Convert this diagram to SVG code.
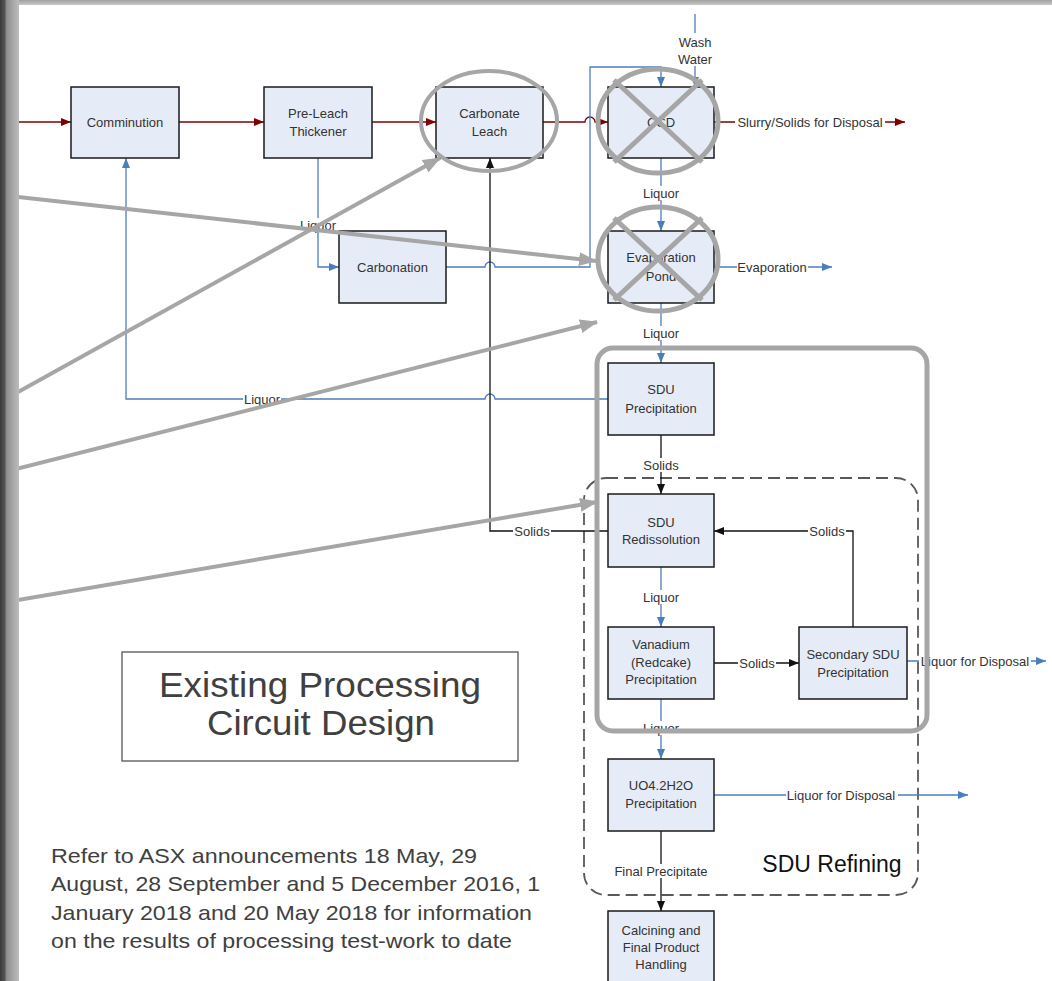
<svg xmlns="http://www.w3.org/2000/svg" width="1052" height="981" viewBox="0 0 1052 981">
<defs>
<style>
.node rect{fill:#e6ecf7;stroke:#1a1a1a;stroke-width:1.5}
.node text,.lbl text{font-family:"Liberation Sans",Arial,sans-serif;font-size:13px;fill:#333;text-anchor:middle}
.lbl rect{fill:#fff}
.red{stroke:#7f0000;stroke-width:1.3;fill:none;marker-end:url(#ar)}
.blue{stroke:#4a7ebf;stroke-width:1.3;fill:none;marker-end:url(#ab)}
.blk{stroke:#111;stroke-width:1.3;fill:none;marker-end:url(#ak)}
.ann{stroke:#a6a6a6;fill:none}
.garrow{stroke:#a6a6a6;stroke-width:4;fill:none;marker-end:url(#ag)}
</style>
<marker id="ar" viewBox="0 0 10 8" refX="10" refY="4" markerWidth="10" markerHeight="8" markerUnits="userSpaceOnUse" orient="auto"><path d="M0,0 L10,4 L0,8z" fill="#7f0000"/></marker>
<marker id="ab" viewBox="0 0 10 8" refX="10" refY="4" markerWidth="10" markerHeight="8" markerUnits="userSpaceOnUse" orient="auto"><path d="M0,0 L10,4 L0,8z" fill="#4a7ebf"/></marker>
<marker id="ak" viewBox="0 0 10 8" refX="10" refY="4" markerWidth="10" markerHeight="8" markerUnits="userSpaceOnUse" orient="auto"><path d="M0,0 L10,4 L0,8z" fill="#111"/></marker>
<marker id="ag" viewBox="0 0 18 14" refX="17" refY="7" markerWidth="18" markerHeight="14" markerUnits="userSpaceOnUse" orient="auto"><path d="M0,0 L18,7 L0,14z" fill="#a6a6a6"/></marker>
<linearGradient id="gl" x1="0" y1="0" x2="1" y2="0"><stop offset="0" stop-color="#3a3a3a"/><stop offset="0.25" stop-color="#555"/><stop offset="0.35" stop-color="#8f8f8f"/><stop offset="1" stop-color="#bdbdbd"/></linearGradient>
<linearGradient id="gt" x1="0" y1="0" x2="0" y2="1"><stop offset="0" stop-color="#a0a0a0"/><stop offset="1" stop-color="#c8c8c8"/></linearGradient>
</defs>
<rect width="1052" height="981" fill="#fff"/>

<g id="sdu-refining-group">
<rect x="584" y="478" width="334" height="417" rx="22" fill="none" stroke="#595959" stroke-width="1.8" stroke-dasharray="12 6"/>
<text x="832" y="872" font-family="'Liberation Sans',Arial,sans-serif" font-size="23" fill="#111" text-anchor="middle">SDU Refining</text>
</g>

<g id="connectors">
<path class="red" d="M19,122 H71"/>
<path class="red" d="M179,122 H264"/>
<path class="red" d="M372,122 H436"/>
<path class="red" d="M543,122 H585 a5,5 0 0 1 10,0 H608"/>
<path class="red" d="M714,122 H905"/>
<path class="blue" d="M695,14 V87"/>
<path class="blue" d="M446,267 H485 a5,5 0 0 1 10,0 H590 V67 H661 V87"/>
<path class="blue" d="M661,158 V231"/>
<path class="blue" d="M714,267 H832"/>
<path class="blue" d="M661,303 V363"/>
<path class="blue" d="M318,158 V267 H339"/>
<path class="blue" d="M608,399 H495 a5,5 0 0 0 -10,0 H126 V158"/>
<path class="blue" d="M661,567 V627"/>
<path class="blue" d="M907,661 H1046"/>
<path class="blue" d="M661,699 V759"/>
<path class="blue" d="M714,795 H968"/>
<path class="blk" d="M661,435 V494"/>
<path class="blk" d="M608,531 H490 V158"/>
<path class="blk" d="M853,627 V531 H714"/>
<path class="blk" d="M714,663 H799"/>
<path class="blk" d="M661,831 V911"/>
</g>

<g id="labels">
<g class="lbl"><rect x="299" y="218" width="38" height="14"/><text x="318" y="229.5">Liquor</text></g>
<g class="lbl"><rect x="642" y="186" width="38" height="14"/><text x="661" y="197.5">Liquor</text></g>
<g class="lbl"><rect x="642" y="326" width="38" height="14"/><text x="661" y="337.5">Liquor</text></g>
<g class="lbl"><rect x="243" y="392" width="38" height="14"/><text x="262" y="403.5">Liquor</text></g>
<g class="lbl"><rect x="642" y="458" width="38" height="14"/><text x="661" y="469.5">Solids</text></g>
<g class="lbl"><rect x="513" y="524" width="38" height="14"/><text x="532" y="535.5">Solids</text></g>
<g class="lbl"><rect x="808" y="524" width="38" height="14"/><text x="827" y="535.5">Solids</text></g>
<g class="lbl"><rect x="642" y="590" width="38" height="14"/><text x="661" y="601.5">Liquor</text></g>
<g class="lbl"><rect x="738" y="656" width="38" height="14"/><text x="757" y="667.5">Solids</text></g>
<g class="lbl"><rect x="642" y="721" width="38" height="14"/><text x="661" y="732.5">Liquor</text></g>
<g class="lbl"><rect x="612" y="864" width="98" height="14"/><text x="661" y="875.5">Final Precipitate</text></g>
<g class="lbl"><rect x="735" y="115" width="150" height="14"/><text x="810" y="126.5">Slurry/Solids for Disposal</text></g>
<g class="lbl"><rect x="737" y="260" width="71" height="14"/><text x="772" y="271.5">Evaporation</text></g>
<g class="lbl"><rect x="919" y="654" width="112" height="14"/><text x="975" y="665.5">Liquor for Disposal</text></g>
<g class="lbl"><rect x="786" y="788" width="112" height="14"/><text x="841" y="799.5">Liquor for Disposal</text></g>
<g class="lbl"><rect x="676" y="33" width="38" height="33"/><text x="695" y="46.5">Wash</text><text x="695" y="63.5">Water</text></g>
</g>

<g id="n-comminution" class="node"><rect x="71" y="87" width="108" height="71"/><text x="125" y="126.5">Comminution</text></g>
<g id="n-preleach" class="node"><rect x="264" y="87" width="108" height="71"/><text x="318" y="118">Pre-Leach</text><text x="318" y="136">Thickener</text></g>
<g id="n-carbleach" class="node"><rect x="436" y="87" width="107" height="71"/><text x="489.5" y="118">Carbonate</text><text x="489.5" y="136">Leach</text></g>
<g id="n-ccd" class="node"><rect x="608" y="87" width="106" height="71"/><text x="661" y="126.5">CCD</text></g>
<g id="n-carbonation" class="node"><rect x="339" y="231" width="107" height="72"/><text x="392.5" y="271.5">Carbonation</text></g>
<g id="n-evap" class="node"><rect x="608" y="231" width="106" height="72"/><text x="661" y="261.5">Evaporation</text><text x="661" y="280.5">Pond</text></g>
<g id="n-sduprecip" class="node"><rect x="608" y="363" width="106" height="72"/><text x="661" y="393.5">SDU</text><text x="661" y="412.5">Precipitation</text></g>
<g id="n-sduredis" class="node"><rect x="608" y="494" width="106" height="73"/><text x="661" y="526.5">SDU</text><text x="661" y="543.5">Redissolution</text></g>
<g id="n-vanadium" class="node"><rect x="608" y="627" width="106" height="72"/><text x="661" y="648.5">Vanadium</text><text x="661" y="666.5">(Redcake)</text><text x="661" y="684">Precipitation</text></g>
<g id="n-secondary" class="node"><rect x="799" y="627" width="108" height="72"/><text x="853" y="658.5">Secondary SDU</text><text x="853" y="676.5">Precipitation</text></g>
<g id="n-uo4" class="node"><rect x="608" y="759" width="106" height="72"/><text x="661" y="789.5">UO4.2H2O</text><text x="661" y="807.5">Precipitation</text></g>
<g id="n-calcining" class="node"><rect x="608" y="911" width="106" height="72"/><text x="661" y="934.5">Calcining and</text><text x="661" y="951.5">Final Product</text><text x="661" y="968.5">Handling</text></g>

<g id="annotations">
<ellipse class="ann" cx="489" cy="121" rx="68" ry="50" stroke-width="4"/>
<ellipse class="ann" cx="658" cy="121" rx="60" ry="52" stroke-width="5"/>
<path class="ann" stroke-width="5" d="M614,80 L702,162 M702,80 L614,162"/>
<ellipse class="ann" cx="658" cy="259" rx="60" ry="52" stroke-width="5"/>
<path class="ann" stroke-width="5" d="M614,218 L702,300 M702,218 L614,300"/>
<rect class="ann" x="597" y="348" width="330" height="383" rx="16" stroke-width="5"/>
<path class="garrow" d="M0,195 L596,261"/>
<path class="garrow" d="M0,402 L440,158"/>
<path class="garrow" d="M0,473 L597,322"/>
<path class="garrow" d="M0,603 L597,502"/>
</g>

<g id="title-box">
<rect x="122" y="652" width="396" height="109" fill="#fff" stroke="#555" stroke-width="1.3"/>
<text x="320" y="697" font-family="'Liberation Sans',Arial,sans-serif" font-size="35" fill="#404040" text-anchor="middle" textLength="322" lengthAdjust="spacingAndGlyphs">Existing Processing</text>
<text x="321" y="735" font-family="'Liberation Sans',Arial,sans-serif" font-size="35" fill="#404040" text-anchor="middle" textLength="228" lengthAdjust="spacingAndGlyphs">Circuit Design</text>
</g>

<g id="note" font-family="'Liberation Sans',Arial,sans-serif" font-size="21" fill="#404040">
<text x="51" y="863" textLength="426" lengthAdjust="spacingAndGlyphs">Refer to ASX announcements 18 May, 29</text>
<text x="51" y="891" textLength="489" lengthAdjust="spacingAndGlyphs">August, 28 September and 5 December 2016, 1</text>
<text x="51" y="920" textLength="481" lengthAdjust="spacingAndGlyphs">January 2018 and 20 May 2018 for information</text>
<text x="51" y="948" textLength="461" lengthAdjust="spacingAndGlyphs">on the results of processing test-work to date</text>
</g>

<g id="frame">
<rect x="0" y="0" width="1052" height="5" fill="url(#gt)"/>
<rect x="0" y="0" width="19" height="981" fill="url(#gl)"/>
</g>
</svg>
